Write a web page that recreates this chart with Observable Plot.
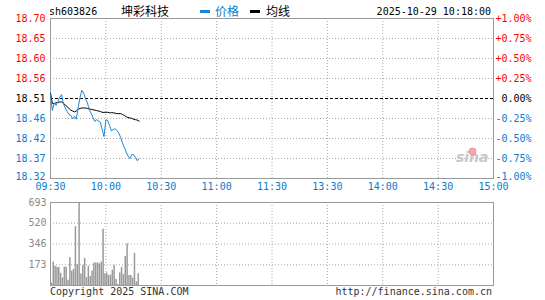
<!DOCTYPE html>
<html><head><meta charset="utf-8">
<script src="https://cdn.jsdelivr.net/npm/d3@7"></script>
<script src="https://cdn.jsdelivr.net/npm/@observablehq/plot@0.6"></script>
<style>
body{margin:0;background:#fff;}
#wrap{position:relative;width:545px;height:300px;overflow:hidden;font-family:"DejaVu Sans Mono",monospace;font-size:10px;}
#wrap svg{position:absolute;left:0;}
.t{position:absolute;white-space:pre;line-height:1;}
.cjk{font-family:"Noto Sans CJK SC",sans-serif;font-size:12px;}
.dash{position:absolute;width:10px;height:3px;}
</style></head><body><div id="wrap"></div>
<script>
const stockCode = "sh603826";
const stockName = "坤彩科技";
const legendPrice = "价格";
const legendAvg = "均线";
const timestamp = "2025-10-29 10:18:00";
const copyright = "Copyright 2025 SINA.COM";
const sourceUrl = "http://finance.sina.com.cn";
const prevClose = 18.51;
const pctTicks = [1, 0.75, 0.5, 0.25, 0, -0.25, -0.5, -0.75, -1];
const priceLabels = ["18.70","18.65","18.60","18.56","18.51","18.46","18.42","18.37","18.32"];
const pctLabels = ["+1.00%","+0.75%","+0.50%","+0.25%","0.00%","-0.25%","-0.50%","-0.75%","-1.00%"];
const timeTicks = [0, 30, 60, 90, 120, 150, 180, 210, 240];
const timeLabels = ["09:30","10:00","10:30","11:00","11:30","13:30","14:00","14:30","15:00"];
const volTicks = [173, 346, 520, 693];
const volMax = 693;
// minute-by-minute price (09:30 .. 10:18)
const price = [18.520,18.482,18.500,18.494,18.503,18.513,18.519,18.498,18.488,18.480,
  18.473,18.471,18.463,18.469,18.462,18.490,18.513,18.529,18.522,18.509,
  18.500,18.484,18.476,18.466,18.457,18.461,18.458,18.455,18.438,18.422,
  18.461,18.459,18.448,18.435,18.438,18.440,18.436,18.430,18.420,18.407,
  18.397,18.386,18.377,18.371,18.380,18.380,18.374,18.366,18.370];
const avgPrice = [18.522,18.499,18.498,18.500,18.501,18.502,18.502,18.499,18.495,18.491,
  18.487,18.483,18.481,18.479,18.481,18.485,18.487,18.488,18.488,18.488,
  18.487,18.486,18.485,18.484,18.483,18.482,18.481,18.480,18.478,18.478,
  18.478,18.478,18.477,18.477,18.477,18.476,18.475,18.475,18.475,18.473,
  18.471,18.468,18.466,18.465,18.464,18.462,18.461,18.460,18.458];
const volume = [20,195,160,152,150,102,63,152,152,44,234,120,135,491,175,693,95,166,226,66,
  160,75,121,188,188,188,180,196,469,99,105,83,88,127,168,50,8,105,152,91,
  243,348,83,83,63,268,30,99];

const RED = "#ff0000", BLUE = "#0a7ccc", LINEBLUE = "#1b86d6", GRID = "#aaaaaa", FRAME = "#999999";
const W = 545, ML = 50, MR = 52;
const font = {fontFamily: "DejaVu Sans Mono, monospace", fontSize: "10px"};

const rows = price.map((p, i) => ({m: i, p, a: avgPrice[i]}));
const yTicks = pctTicks.map(p => prevClose * (1 + p / 100));
const idx = pctTicks.map((p, i) => i);
const up = idx.filter(i => pctTicks[i] > 0), zero = idx.filter(i => pctTicks[i] === 0);
const down = idx.filter(i => pctTicks[i] < 0 && pctTicks[i] > -1), bottom = idx.filter(i => pctTicks[i] === -1);
const inner = idx.filter(i => pctTicks[i] !== 0 && Math.abs(pctTicks[i]) < 1);

function leftLabels(ids, fill, dy = 0) {
  return Plot.text(ids, {y: i => yTicks[i], text: i => priceLabels[i], frameAnchor: "left", dx: -5, dy, textAnchor: "end", fill, fontSize: 10});
}
function rightLabels(ids, fill, dy = 0) {
  return Plot.text(ids, {y: i => yTicks[i], text: i => pctLabels[i], frameAnchor: "right", dx: 38, dy, textAnchor: "end", fill, fontSize: 10});
}

const pricePlot = Plot.plot({
  width: W, height: 196, marginLeft: ML, marginRight: MR, marginTop: 18, marginBottom: 18,
  style: font,
  x: {domain: [0, 240], axis: null},
  y: {domain: [yTicks[yTicks.length - 1], yTicks[0]], axis: null},
  marks: [
    Plot.ruleY(inner, {y: i => yTicks[i], stroke: GRID, strokeDasharray: "1,2"}),
    Plot.ruleX(timeTicks.slice(1, -1), {x: d => d, stroke: GRID, strokeDasharray: "1,2"}),
    Plot.ruleY([prevClose], {y: d => d, stroke: "#000", strokeDasharray: "3,2"}),
    Plot.text(["sina"], {frameAnchor: "bottom-right", dx: -5, dy: -17, textAnchor: "end", fontSize: 14, fontStyle: "italic", fontWeight: "bold", fill: "#c8c8c8", fontFamily: "DejaVu Sans"}),
    Plot.dot([0], {frameAnchor: "bottom-right", dx: -21, dy: -27, r: 3.5, fill: "#f3a9a9", stroke: "#e08a8a", strokeWidth: 0.8}),
    Plot.frame({stroke: FRAME}),
    Plot.line(rows, {x: "m", y: "a", stroke: "#000", strokeWidth: 1}),
    Plot.line(rows, {x: "m", y: "p", stroke: LINEBLUE, strokeWidth: 1}),
    leftLabels(up, RED), leftLabels(zero, "#000"), leftLabels(down, BLUE), leftLabels(bottom, BLUE, -1.5),
    rightLabels(up, RED), rightLabels(zero, "#000"), rightLabels(down, BLUE), rightLabels(bottom, BLUE, -1.5),
    Plot.text(timeTicks, {x: d => d, text: (d, i) => timeLabels[i], frameAnchor: "bottom", dy: 11.5, fill: BLUE, fontSize: 10})
  ]
});
pricePlot.style.top = "0px";

const volPlot = Plot.plot({
  width: W, height: 104, marginLeft: ML, marginRight: MR, marginTop: 6, marginBottom: 15,
  style: font,
  x: {domain: [0, 240], axis: null},
  y: {domain: [0, volMax], axis: null},
  marks: [
    Plot.ruleY(volTicks.filter(d => d < volMax), {y: d => d, stroke: GRID, strokeDasharray: "1,2"}),
    Plot.ruleX(timeTicks.slice(1, -1), {x: d => d, stroke: GRID, strokeDasharray: "1,2"}),
    Plot.ruleX(volume, {x: (d, i) => i + 0.5, y1: 0, y2: d => d, stroke: "#999", strokeWidth: 1.5}),
    Plot.frame({stroke: FRAME}),
    Plot.text(volTicks, {y: d => d, text: d => String(d), frameAnchor: "left", dx: -4, textAnchor: "end", fill: "#8a8a8a", fontSize: 10})
  ]
});
volPlot.style.top = "196px";

const wrap = document.getElementById("wrap");
wrap.append(pricePlot, volPlot);

function addText(txt, css, cls) {
  const s = document.createElement("span");
  s.className = "t" + (cls ? " " + cls : "");
  s.textContent = txt;
  Object.assign(s.style, css);
  wrap.appendChild(s);
  return s;
}
function addDash(left, color) {
  const d = document.createElement("div");
  d.className = "dash";
  Object.assign(d.style, {left: left + "px", top: "10px", background: color});
  wrap.appendChild(d);
}
addText(stockCode, {left: "49px", top: "7px", color: "#000"});
addText(stockName, {left: "121px", top: "5px", color: "#000"}, "cjk");
addDash(200, LINEBLUE);
addText(legendPrice, {left: "215px", top: "5px", color: BLUE}, "cjk");
addDash(250, "#000");
addText(legendAvg, {left: "266px", top: "5px", color: "#000"}, "cjk");
addText(timestamp, {right: "54px", top: "7px", color: "#000"});
addText(copyright, {left: "50px", top: "287px", color: "#333"});
addText(sourceUrl, {right: "53px", top: "287px", color: "#333"});
</script></body></html>
